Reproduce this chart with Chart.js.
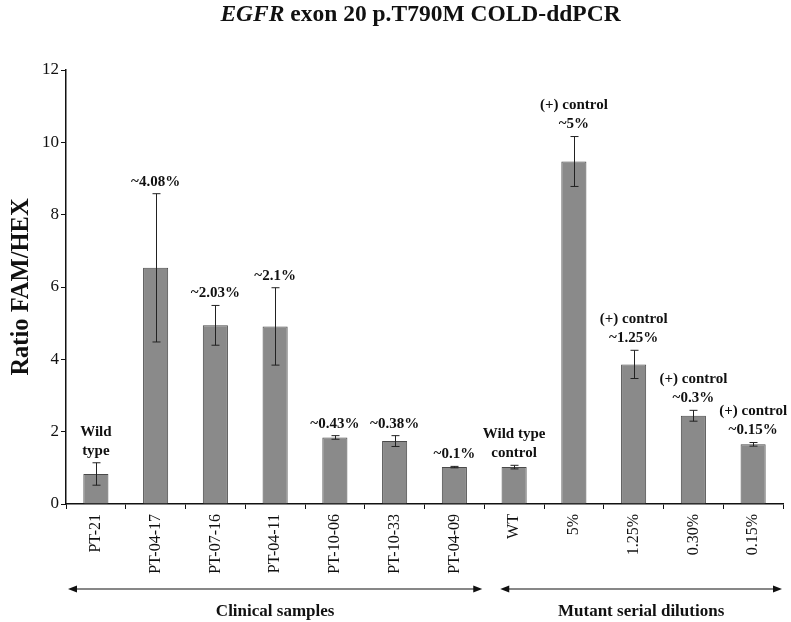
<!DOCTYPE html>
<html>
<head>
<meta charset="utf-8">
<script src="https://cdn.jsdelivr.net/npm/chart.js@4.4.1/dist/chart.umd.min.js"></script>
<style>
	html, body { margin: 0; padding: 0; background: #fff; }
	#wrap { width: 791px; height: 622px; }
</style>
</head>
<body>
<div id="wrap"><canvas id="chart"></canvas></div>
<script>
const categories = ['PT-21', 'PT-04-17', 'PT-07-16', 'PT-04-11', 'PT-10-06', 'PT-10-33', 'PT-04-09', 'WT', '5%', '1.25%', '0.30%', '0.15%'];
const ratios = [0.83, 6.53, 4.94, 4.91, 1.84, 1.74, 1.02, 1.02, 9.47, 3.86, 2.44, 1.65];
const errors = [0.31, 2.05, 0.55, 1.07, 0.05, 0.15, 0.02, 0.05, 0.69, 0.39, 0.15, 0.05];
const notes = [
	['Wild', 'type'],
	['~4.08%'],
	['~2.03%'],
	['~2.1%'],
	['~0.43%'],
	['~0.38%'],
	['~0.1%'],
	['Wild type', 'control'],
	['(+) control', '~5%'],
	['(+) control', '~1.25%'],
	['(+) control', '~0.3%'],
	['(+) control', '~0.15%']
];
const groupLabels = ['Clinical samples', 'Mutant serial dilutions'];
const groupRanges = [[0, 6], [7, 11]];
const yTicks = [0, 2, 4, 6, 8, 10, 12];

const SERIF = '"Liberation Serif", "DejaVu Serif", serif';

const chartPlugins = (() => {
	const background = {
		id: 'background',
		beforeDraw(chart) {
			const ctx = chart.ctx;
			ctx.save();
			ctx.fillStyle = '#ffffff';
			ctx.fillRect(0, 0, chart.width, chart.height);
			ctx.restore();
		}
	};

	// error bars + the notes above them
	const errorBars = {
		id: 'errorBars',
		afterDatasetsDraw(chart) {
			const ctx = chart.ctx;
			const y = chart.scales.y;
			const meta = chart.getDatasetMeta(0);

			ctx.save();
			ctx.strokeStyle = '#222';
			ctx.lineWidth = 1;
			meta.data.forEach((bar, i) => {
				const x = Math.round(bar.x) + 0.5;
				const top = y.getPixelForValue(ratios[i] + errors[i]);
				const bottom = y.getPixelForValue(ratios[i] - errors[i]);
				ctx.beginPath();
				ctx.moveTo(x, top);
				ctx.lineTo(x, bottom);
				ctx.moveTo(x - 4, top);
				ctx.lineTo(x + 4, top);
				ctx.moveTo(x - 4, bottom);
				ctx.lineTo(x + 4, bottom);
				ctx.stroke();

				ctx.fillStyle = '#111';
				ctx.font = 'bold 15px ' + SERIF;
				ctx.textAlign = 'center';
				ctx.textBaseline = 'middle';
				const lines = notes[i];
				lines.forEach((line, k) => {
					const ly = top - 12 - (lines.length - 1 - k) * 19;
					ctx.fillText(line, bar.x, ly);
				});
			});
			ctx.restore();
		}
	};

	// title with italic gene name
	const title = {
		id: 'mixedTitle',
		afterDraw(chart) {
			const ctx = chart.ctx;
			const area = chart.chartArea;
			const cx = (area.left + area.right) / 2 - 4;
			const italic = 'italic bold 23.5px ' + SERIF;
			const bold = 'bold 23.5px ' + SERIF;
			const a = 'EGFR';
			const b = ' exon 20 p.T790M COLD-ddPCR';

			ctx.save();
			ctx.fillStyle = '#111';
			ctx.textBaseline = 'alphabetic';
			ctx.textAlign = 'left';
			ctx.font = italic;
			const wa = ctx.measureText(a).width;
			ctx.font = bold;
			const wb = ctx.measureText(b).width;
			let x = cx - (wa + wb) / 2;
			ctx.font = italic;
			ctx.fillText(a, x, 21);
			ctx.font = bold;
			ctx.fillText(b, x + wa, 21);
			ctx.restore();
		}
	};

	// arrows under the x labels
	const groups = {
		id: 'groups',
		afterDraw(chart) {
			const ctx = chart.ctx;
			const xs = chart.scales.x;
			const half = (xs.getPixelForValue(1) - xs.getPixelForValue(0)) / 2;
			const ay = 589;

			ctx.save();
			ctx.strokeStyle = '#111';
			ctx.fillStyle = '#111';
			ctx.lineWidth = 1.2;
			groupRanges.forEach((range, g) => {
				let x1 = xs.getPixelForValue(range[0]) - half + 2;
				let x2 = xs.getPixelForValue(range[1]) + half - 2;
				if (g === 1) {
					x1 += 14;
					x2 += 1;
				}
				ctx.beginPath();
				ctx.moveTo(x1 + 4, ay);
				ctx.lineTo(x2 - 4, ay);
				ctx.stroke();
				[[x1, 1], [x2, -1]].forEach(([px, dir]) => {
					ctx.beginPath();
					ctx.moveTo(px, ay);
					ctx.lineTo(px + dir * 9, ay - 3.5);
					ctx.lineTo(px + dir * 9, ay + 3.5);
					ctx.closePath();
					ctx.fill();
				});

				ctx.font = 'bold 17px ' + SERIF;
				ctx.textAlign = 'center';
				ctx.textBaseline = 'middle';
				ctx.fillText(groupLabels[g], (x1 + x2) / 2, 612);
			});
			ctx.restore();
		}
	};

	return [background, errorBars, title, groups];
})();

const ctx = document.getElementById('chart').getContext('2d');
new Chart(ctx, {
	type: 'bar',
	data: {
		labels: categories,
		datasets: [
			{
				data: ratios,
				backgroundColor: '#8a8a8a',
				borderColor: '#4a4a4a',
				borderWidth: 1,
				barPercentage: 0.84,
				categoryPercentage: 0.5
			}
		]
	},
	options: {
		responsive: true,
		maintainAspectRatio: false,
		animation: false,
		layout: {
			padding: { top: 70, right: 8, bottom: 0, left: 0 }
		},
		plugins: {
			legend: { display: false },
			tooltip: { enabled: false }
		},
		scales: {
			x: {
				grid: {
					display: true,
					drawOnChartArea: false,
					offset: true,
					tickLength: 5,
					color: '#111'
				},
				border: { color: '#111', width: 1.5 },
				ticks: {
					minRotation: 90,
					maxRotation: 90,
					padding: 5,
					color: '#111',
					font: { family: SERIF, size: 16 }
				},
				afterFit(scale) {
					scale.height = 118;
				}
			},
			y: {
				min: 0,
				max: 12,
				afterBuildTicks(scale) {
					scale.ticks = yTicks.map((v) => ({ value: v }));
				},
				grid: {
					drawOnChartArea: false,
					tickLength: 5,
					color: '#111'
				},
				border: { color: '#111', width: 1.5 },
				ticks: {
					padding: 2,
					color: '#111',
					font: { family: SERIF, size: 17 }
				},
				title: {
					display: true,
					text: 'Ratio FAM/HEX',
					color: '#111',
					padding: { top: 7, bottom: 0 },
					font: { family: SERIF, size: 24.5, weight: 'bold' }
				},
				afterFit(scale) {
					scale.width = 66;
				}
			}
		}
	},
	plugins: chartPlugins
});
</script>
</body>
</html>
